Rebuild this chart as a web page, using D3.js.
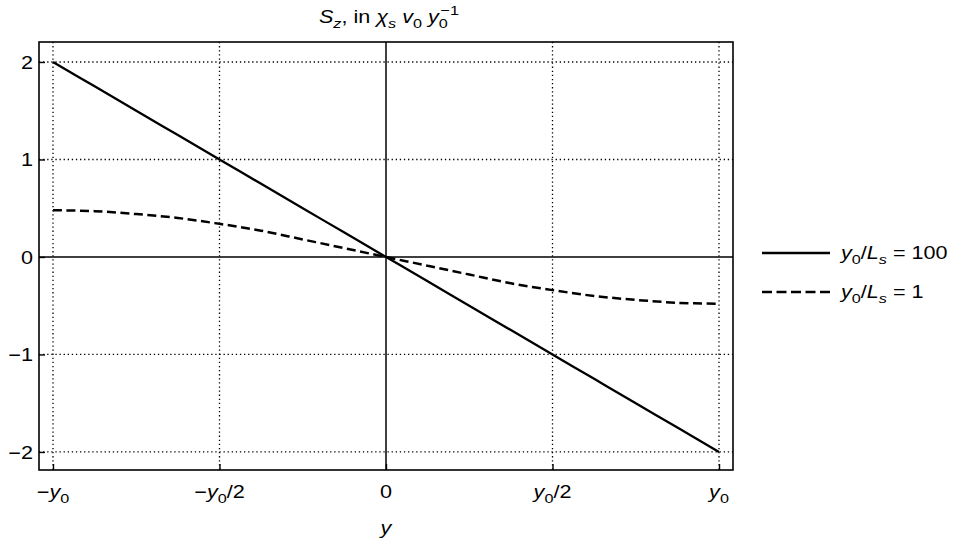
<!DOCTYPE html>
<html lang="en">
<head>
<meta charset="UTF-8">
<title>S_z profile</title>
<script src="https://cdn.jsdelivr.net/npm/d3@7"></script>
<style>
  body { margin: 0; background: #fff; }
  svg text { font-family: "Liberation Sans", Arial, sans-serif; fill: #000; }
  .grid line { stroke: #000; stroke-width: 1.3; stroke-dasharray: 1.3 2.8; }
</style>
</head>
<body>
<svg id="chart" width="960" height="545"></svg>
<script>
// data (y in units of y0, S_z in chi_s v0 / y0)
const yPositions = [-1, -0.875, -0.75, -0.625, -0.5, -0.375, -0.25, -0.125, 0,
                    0.125, 0.25, 0.375, 0.5, 0.625, 0.75, 0.875, 1];
const szLong = [2, 1.75, 1.5, 1.25, 1, 0.75, 0.5, 0.25, 0,
                -0.25, -0.5, -0.75, -1, -1.25, -1.5, -1.75, -2];      // y0/Ls = 100
const szShort = [0.48, 0.47, 0.44, 0.40, 0.34, 0.27, 0.18, 0.09, 0,
                 -0.09, -0.18, -0.27, -0.34, -0.40, -0.44, -0.47, -0.48]; // y0/Ls = 1
const xTicks = [-1, -0.5, 0, 0.5, 1];
const xTickLabels = [
  [{t: "\u2212"}, {t: "y", i: 1}, {t: "0", s: "sub"}],
  [{t: "\u2212"}, {t: "y", i: 1}, {t: "0", s: "sub"}, {t: "/2"}],
  [{t: "0"}],
  [{t: "y", i: 1}, {t: "0", s: "sub"}, {t: "/2"}],
  [{t: "y", i: 1}, {t: "0", s: "sub"}]
];
const yTicks = [-2, -1, 0, 1, 2];
const yTickLabels = ["\u22122", "\u22121", "0", "1", "2"];
const seriesNames = [
  [{t: "y", i: 1}, {t: "0", s: "sub"}, {t: "/"}, {t: "L", i: 1}, {t: "s", i: 1, s: "sub"}, {t: " = 100"}],
  [{t: "y", i: 1}, {t: "0", s: "sub"}, {t: "/"}, {t: "L", i: 1}, {t: "s", i: 1, s: "sub"}, {t: " = 1"}]
];

const svg = d3.select("#chart");
const margin = {top: 42, right: 227, bottom: 75, left: 39};
const W = 960 - margin.left - margin.right;
const H = 545 - margin.top - margin.bottom;
const FS = 18;        // font size
const STRETCH = 1.2;  // the reference type is set wide

const x = d3.scaleLinear().domain([-1.042, 1.042]).range([0, W]);
const y = d3.scaleLinear().domain([-2.185, 2.205]).range([H, 0]);

const g = svg.append("g").attr("transform", `translate(${margin.left},${margin.top})`);

// text with italic / sub / sup pieces, widened a little
function label(parent, px, py, anchor, parts) {
  const t = parent.append("g").attr("transform", `translate(${px},${py}) scale(${STRETCH},1)`)
    .append("text").attr("text-anchor", anchor);
  let shift = 0;
  parts.forEach(p => {
    const target = p.s === "sub" ? FS * 0.25 : p.s === "sup" ? -FS * 0.45 : 0;
    const ts = t.append("tspan").text(p.t)
      .attr("dy", target - shift)
      .style("font-size", p.s ? (FS * 0.75) + "px" : FS + "px")
      .style("font-style", p.i ? "italic" : "normal");
    if (p.dx) ts.attr("dx", p.dx);
    shift = target;
  });
  return t;
}

// grid
const grid = g.append("g").attr("class", "grid");
grid.selectAll(".gx").data(xTicks.filter(d => d !== 0)).enter().append("line")
  .attr("x1", d => x(d)).attr("x2", d => x(d)).attr("y1", 0).attr("y2", H);
grid.selectAll(".gy").data(yTicks.filter(d => d !== 0)).enter().append("line")
  .attr("y1", d => y(d)).attr("y2", d => y(d)).attr("x1", 0).attr("x2", W);

// zero axes
g.append("line").attr("x1", x(0)).attr("x2", x(0)).attr("y1", 0).attr("y2", H)
  .attr("stroke", "#000").attr("stroke-width", 1.5);
g.append("line").attr("x1", 0).attr("x2", W).attr("y1", y(0)).attr("y2", y(0))
  .attr("stroke", "#000").attr("stroke-width", 1.5);

// frame ticks (inward)
const bottomAxis = d3.axisBottom(x).tickValues(xTicks).tickSize(-6).tickFormat("");
const leftAxis = d3.axisLeft(y).tickValues(yTicks).tickSize(-6).tickFormat("");
g.append("g").attr("transform", `translate(0,${H})`).call(bottomAxis)
  .call(a => a.select(".domain").remove())
  .selectAll("line").attr("stroke-width", 1.4);
g.append("g").call(leftAxis)
  .call(a => a.select(".domain").remove())
  .selectAll("line").attr("stroke-width", 1.4);

// tick labels
xTicks.forEach((d, i) => label(g, x(d), H + 28, "middle", xTickLabels[i]));
yTicks.forEach((d, i) => label(g, -6, y(d) + 7, "end", [{t: yTickLabels[i]}]));

// curves
const pts = vals => yPositions.map((p, i) => [p, vals[i]]);
const line = d3.line().x(d => x(d[0])).y(d => y(d[1])).curve(d3.curveCatmullRom);
g.append("path").datum(pts(szLong)).attr("d", line)
  .attr("fill", "none").attr("stroke", "#000").attr("stroke-width", 2.3);
g.append("path").datum(pts(szShort)).attr("d", line)
  .attr("fill", "none").attr("stroke", "#000").attr("stroke-width", 2.5)
  .attr("stroke-dasharray", "9 4.5");

// frame
g.append("rect").attr("width", W).attr("height", H)
  .attr("fill", "none").attr("stroke", "#000").attr("stroke-width", 1.6);

// title and axis label
label(svg, 389, 23, "middle",
  [{t: "S", i: 1}, {t: "z", i: 1, s: "sub"}, {t: ", in "},
   {t: "\u03c7", i: 1}, {t: "s", i: 1, s: "sub"}, {t: " "},
   {t: "v", i: 1}, {t: "0", s: "sub"}, {t: " "},
   {t: "y", i: 1}, {t: "0", s: "sub"}, {t: "\u22121", s: "sup", dx: -6}]);
label(svg, margin.left + x(0), 534, "middle", [{t: "y", i: 1}]);

// legend
const legend = svg.append("g").attr("transform", "translate(762,253)");
const dashes = [null, "10 4.5"];
seriesNames.forEach((name, i) => {
  const row = legend.append("g").attr("transform", `translate(0,${i * 39})`);
  row.append("line").attr("x1", 0).attr("x2", 68).attr("stroke", "#000")
    .attr("stroke-width", 2.4).attr("stroke-dasharray", dashes[i]);
  label(row, 79, 6, "start", name);
});
</script>
</body>
</html>
